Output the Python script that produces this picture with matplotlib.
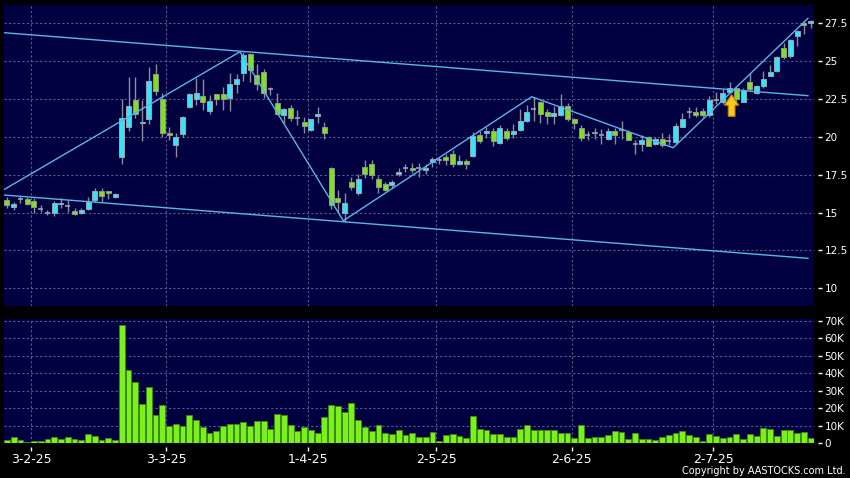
import numpy as np
import matplotlib
matplotlib.use("Agg")
import matplotlib.pyplot as plt
from matplotlib.patches import FancyArrow
from matplotlib.ticker import FuncFormatter

# daily OHLC (index 0 = first candle)
opens = [15.84, 15.37, 15.90, 15.90, 15.77, 15.22, 15.00, 14.96, 15.55, 15.46,
         15.13, 15.00, 15.22, 15.84, 16.43, 16.45, 16.01, 18.65, 20.67, 22.46,
         20.90, 21.20, 24.13, 22.52, 20.24, 19.48, 20.22, 21.98, 22.50, 22.67,
         21.74, 22.83, 22.83, 22.57, 23.48, 24.22, 25.50, 24.08, 24.30, 23.13,
         22.27, 21.44, 21.88, 21.22, 21.00, 20.45, 21.38, 20.63, 17.97, 15.95,
         15.00, 17.04, 16.27, 18.00, 18.20, 17.24, 16.91, 16.82, 17.56, 17.96,
         17.93, 17.96, 17.82, 18.33, 18.44, 18.67, 18.89, 18.18, 18.40, 18.71,
         20.14, 20.25, 20.36, 19.57, 20.41, 20.18, 20.45, 21.05, 21.84, 22.30,
         21.66, 21.36, 21.43, 22.07, 21.16, 20.57, 20.11, 20.34, 20.11, 19.89,
         20.40, 20.45, 20.33, 19.50, 19.55, 19.96, 19.55, 19.89, 19.71, 19.66,
         20.67, 21.65, 21.65, 21.72, 21.45, 22.45, 22.28, 22.98, 23.20, 22.33,
         23.63, 22.93, 23.33, 24.02, 24.35, 25.87, 25.33, 26.67, 27.50, 27.50]
highs = [16.06, 15.73, 16.12, 16.05, 15.99, 15.50, 15.18, 15.77, 15.95, 15.84,
         15.29, 15.29, 16.06, 16.60, 16.60, 16.45, 16.28, 22.50, 23.93, 23.93,
         22.46, 24.59, 24.80, 22.89, 20.67, 20.24, 21.41, 22.89, 23.91, 23.80,
         22.78, 22.83, 23.30, 24.20, 24.15, 25.60, 25.55, 24.80, 24.45, 23.30,
         22.87, 21.88, 22.10, 21.77, 21.33, 21.15, 21.99, 21.00, 18.03, 16.50,
         16.27, 17.35, 17.55, 18.47, 18.44, 17.44, 17.00, 17.15, 17.96, 18.22,
         18.27, 18.27, 18.22, 18.67, 18.67, 18.89, 19.16, 18.78, 18.56, 20.33,
         20.41, 20.64, 20.57, 20.80, 20.57, 20.84, 21.84, 22.10, 22.61, 22.39,
         21.84, 22.07, 22.80, 22.23, 21.25, 20.80, 20.41, 20.56, 20.49, 20.56,
         20.56, 21.05, 20.45, 19.78, 20.10, 20.05, 20.00, 20.27, 20.22, 20.93,
         21.56, 21.96, 21.96, 21.90, 22.68, 22.95, 23.15, 23.63, 23.26, 23.20,
         24.24, 23.41, 24.35, 24.76, 25.33, 26.20, 26.46, 27.07, 27.67, 27.72]
lows = [15.29, 15.18, 15.62, 15.50, 15.00, 15.07, 14.85, 14.80, 15.33, 15.07,
        14.85, 14.90, 15.18, 15.73, 15.73, 15.90, 15.95, 18.20, 20.39, 21.26,
        19.74, 20.83, 22.78, 20.02, 19.80, 18.65, 20.02, 21.91, 22.13, 21.76,
        21.54, 22.13, 21.80, 21.70, 22.90, 23.70, 23.64, 23.09, 22.54, 22.76,
        21.44, 20.90, 21.07, 20.78, 20.23, 20.40, 20.89, 19.84, 15.22, 15.07,
        14.41, 16.50, 16.17, 17.26, 17.22, 16.28, 16.45, 16.60, 17.40, 17.67,
        17.60, 17.38, 17.56, 18.00, 18.18, 18.11, 18.04, 18.11, 17.89, 18.67,
        19.61, 19.95, 19.39, 19.50, 19.80, 19.95, 20.41, 20.98, 21.02, 20.93,
        20.84, 20.84, 21.39, 21.02, 20.52, 19.73, 19.80, 19.89, 19.50, 19.82,
        19.55, 19.89, 19.78, 18.88, 19.10, 19.38, 19.44, 19.33, 19.44, 19.55,
        20.62, 21.23, 21.34, 21.34, 21.34, 22.20, 22.17, 22.93, 22.30, 22.28,
        23.04, 22.85, 23.26, 24.02, 24.28, 25.15, 25.22, 25.98, 26.80, 27.17]
closes = [15.51, 15.55, 15.90, 15.57, 15.40, 15.22, 15.00, 15.66, 15.66, 15.46,
          14.91, 15.15, 15.73, 16.45, 16.12, 16.28, 16.21, 21.22, 22.02, 21.48,
          21.00, 23.72, 23.00, 20.28, 20.10, 20.02, 21.30, 22.83, 22.89, 22.30,
          22.35, 22.52, 22.52, 23.48, 23.80, 25.40, 24.40, 23.48, 22.87, 23.13,
          21.50, 21.81, 21.22, 21.22, 20.71, 21.15, 21.50, 20.23, 15.51, 15.73,
          15.66, 16.69, 17.24, 17.58, 17.46, 16.68, 16.52, 17.04, 17.70, 17.96,
          17.82, 17.96, 17.96, 18.56, 18.44, 18.44, 18.18, 18.40, 18.18, 20.04,
          19.73, 20.36, 19.73, 20.57, 19.95, 20.36, 21.05, 21.61, 21.84, 21.48,
          21.36, 21.55, 22.07, 21.20, 20.93, 19.95, 20.11, 20.23, 20.11, 20.38,
          20.11, 20.45, 19.82, 19.50, 19.82, 19.40, 19.89, 19.44, 19.71, 20.71,
          21.16, 21.65, 21.43, 21.45, 22.43, 22.45, 22.93, 23.22, 22.50, 23.11,
          23.15, 23.37, 23.85, 24.30, 25.26, 25.28, 26.37, 27.02, 27.39, 27.65]
volumes = [1.9, 3.4, 1.9, 0.6, 1.3, 1.3, 2.3, 3.4, 2.3, 3.6,
           2.7, 1.9, 5.3, 4.0, 1.9, 3.2, 1.9, 67.4, 41.7, 34.9,
           22.3, 32.2, 16.0, 21.9, 9.9, 10.9, 9.9, 16.0, 13.3, 9.5,
           6.1, 7.2, 9.9, 11.2, 10.9, 12.2, 9.9, 12.6, 13.0, 8.0,
           17.0, 16.4, 10.7, 6.9, 9.3, 7.6, 5.7, 14.9, 22.1, 21.3,
           17.9, 23.0, 13.3, 9.5, 7.0, 10.3, 5.9, 5.1, 7.6, 5.0,
           5.7, 3.6, 3.8, 6.7, 1.5, 4.8, 5.3, 4.2, 2.9, 15.6,
           8.0, 7.6, 5.1, 5.1, 3.8, 3.6, 8.2, 10.5, 7.6, 7.6,
           7.4, 7.6, 5.7, 6.1, 3.0, 10.3, 3.0, 3.4, 3.4, 4.6,
           7.0, 6.3, 2.3, 5.7, 2.5, 2.5, 1.9, 3.6, 4.8, 5.7,
           7.2, 4.6, 3.6, 1.5, 5.1, 4.2, 2.9, 3.6, 5.3, 2.5,
           5.1, 4.0, 8.6, 8.0, 4.4, 7.4, 7.6, 5.7, 6.5, 2.9]  # thousands of shares

date_idx = [3, 23, 44, 63, 83, 104]
date_labels = ["3-2-25", "3-3-25", "1-4-25", "2-5-25", "2-6-25", "2-7-25"]
price_ticks = [10, 12.5, 15, 17.5, 20, 22.5, 25, 27.5]
vol_ticks = [0, 10, 20, 30, 40, 50, 60, 70]

# drawn trend lines: (candle index, price) anchor points
upper_line = ([-0.44, 118.6], [26.88, 22.72])
lower_line = ([-0.44, 118.6], [16.16, 11.98])
zigzag_line = ([-0.55, 34.5, 49.8, 77.7, 98.65, 118.6],
               [16.49, 25.62, 14.46, 22.65, 19.28, 27.83])
arrow_idx, arrow_base, arrow_tip = 107.3, 21.36, 22.79

o = np.array(opens)
h = np.array(highs)
l = np.array(lows)
c = np.array(closes)
x = np.arange(len(o))

BG = "#000040"
GRID = "#5a5a8c"
UP = "#33e6f5"
DOWN = "#80e020"
LINE = "#5cb4ea"

fig = plt.figure(figsize=(8.5, 4.78), dpi=100, facecolor="black")
ax = fig.add_axes([4 / 850, 1 - 306 / 478, 810 / 850, 301 / 478], facecolor=BG)
axv = fig.add_axes([4 / 850, 1 - 443.3 / 478, 810 / 850, 124 / 478], facecolor=BG)

# candles
ax.vlines(x, l, h, color="#8c8c9c", linewidth=1, zorder=2)
up = c > o
down = c < o
flat = c == o
ax.bar(x[up], (c - o)[up], bottom=o[up], width=0.74, color=UP,
       edgecolor="#9aa4b4", linewidth=0.7, zorder=3)
ax.bar(x[down], (o - c)[down], bottom=c[down], width=0.74, color=DOWN,
       edgecolor="#8a9a8a", linewidth=0.7, zorder=3)
ax.hlines(c[flat], x[flat] - 0.37, x[flat] + 0.37, color="#a0a0b0", linewidth=1.2, zorder=3)

# trend lines
for xs, ys in (upper_line, lower_line, zigzag_line):
    ax.plot(xs, ys, color=LINE, linewidth=1.0, zorder=4)

ax.add_patch(FancyArrow(arrow_idx, arrow_base, 0, arrow_tip - arrow_base, width=1.0,
                        head_width=2.1, head_length=0.7, length_includes_head=True,
                        facecolor="#f8c81c", edgecolor="#c08400", linewidth=0.8, zorder=5))

# volume
axv.bar(x, volumes, width=0.86, color="#7cf01a", edgecolor="#3c8c10", linewidth=0.6, zorder=3)

grid_x = [d + 0.6 for d in date_idx]
for a in (ax, axv):
    a.set_xlim(-0.44, 119.5)
    a.set_xticks(grid_x)
    a.grid(True, color=GRID, linestyle=(0, (2, 2)), linewidth=0.8, zorder=0)
    a.set_axisbelow(True)
    a.yaxis.tick_right()
    a.spines["right"].set_position(("outward", 3))
    for s in a.spines.values():
        s.set_visible(False)
    a.tick_params(axis="y", colors="white", labelsize=7.5, length=3, width=1, pad=1.5)

ax.set_ylim(8.83, 28.71)
ax.set_yticks(price_ticks)
ax.yaxis.set_major_formatter(FuncFormatter(lambda v, p: "%g" % v))
ax.tick_params(axis="x", length=0, labelbottom=False)

axv.set_ylim(0, 70.8)
axv.set_yticks(vol_ticks)
axv.set_yticklabels(["0" if v == 0 else "%dK" % v for v in vol_ticks])
axv.spines["bottom"].set_position(("outward", 3))
axv.set_xticklabels(date_labels)
axv.tick_params(axis="x", colors="white", labelsize=9, length=3, width=1, pad=1)

fig.text(0.995, 1 - 471.5 / 478, "Copyright by AASTOCKS.com Ltd.", ha="right",
         va="center", color="white", fontsize=7)

fig.savefig("out.png", dpi=100, facecolor="black")
